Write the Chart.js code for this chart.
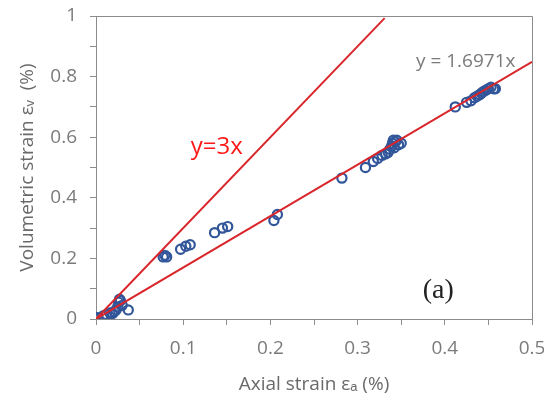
<!DOCTYPE html>
<html lang="en">
<head>
  <meta charset="UTF-8" />
  <title>Volumetric vs axial strain</title>
  <script src="https://cdn.jsdelivr.net/npm/chart.js"></script>
  <style>
    body { margin: 0; background: #fff; }
    canvas { display: block; }
  </style>
</head>
<body>
  <canvas id="strainChart" width="544" height="401"></canvas>

  <script>
    // measured points (axial %, volumetric %)
    const axialStrain = [0, 0.002, 0.008, 0.012, 0.016, 0.019, 0.021, 0.023, 0.025, 0.026, 0.027, 0.028, 0.03, 0.037,
      0.077, 0.079, 0.081, 0.097, 0.103, 0.108, 0.136, 0.145, 0.151,
      0.204, 0.208, 0.282, 0.309, 0.318, 0.323, 0.328, 0.332, 0.335, 0.337, 0.339, 0.34, 0.341, 0.342, 0.343, 0.345, 0.347, 0.35,
      0.412, 0.425, 0.43, 0.434, 0.437, 0.44, 0.442, 0.444, 0.447, 0.45, 0.453, 0.456, 0.458];
    const volStrain = [0, 0.004, 0.01, 0.015, 0.02, 0.018, 0.025, 0.03, 0.04, 0.055, 0.065, 0.06, 0.045, 0.03,
      0.205, 0.21, 0.205, 0.23, 0.24, 0.245, 0.285, 0.3, 0.305,
      0.325, 0.345, 0.465, 0.5, 0.52, 0.53, 0.54, 0.545, 0.55, 0.56, 0.57, 0.58, 0.59, 0.565, 0.585, 0.59, 0.575, 0.58,
      0.7, 0.715, 0.72, 0.73, 0.735, 0.74, 0.745, 0.75, 0.755, 0.76, 0.765, 0.76, 0.76];

    // reference lines
    const line3xX = [0, 0.331];
    const line3xY = [0, 0.993];
    const fitLineX = [0, 0.5];
    const fitLineY = [0, 0.8486];

    const xTicks = [0, 0.1, 0.2, 0.3, 0.4, 0.5];
    const yTicks = [0, 0.2, 0.4, 0.6, 0.8, 1];

    const toPts = (xs, ys) => xs.map((x, i) => ({ x: x, y: ys[i] }));
    const showLabel = (list) => (v) => {
      const r = +v.toFixed(2);
      return list.some(t => Math.abs(t - r) < 1e-6) ? String(r) : '';
    };

    const axisGray = '#8c8c8c';
    const textGray = '#7b7b7b';
    const red = '#d9262b';

    const frame = {
      id: 'frame',
      afterDraw(chart) {
        const { ctx, chartArea: a, scales } = chart;
        ctx.save();
        ctx.strokeStyle = axisGray;
        ctx.lineWidth = 1;
        ctx.beginPath();
        ctx.moveTo(a.left, a.top + 0.5);
        ctx.lineTo(a.right + 0.5, a.top + 0.5);
        ctx.lineTo(a.right + 0.5, a.bottom);
        ctx.stroke();

        const x = scales.x, y = scales.y;
        ctx.textAlign = 'center';
        ctx.textBaseline = 'middle';
        ctx.fillStyle = '#ff1a1a';
        ctx.font = '24px "Open Sans", sans-serif';
        ctx.fillText('y=3x', x.getPixelForValue(0.1385), y.getPixelForValue(0.568));

        ctx.fillStyle = '#7a7a7a';
        ctx.font = '19px "Open Sans", sans-serif';
        ctx.fillText('y = 1.6971x', x.getPixelForValue(0.424), y.getPixelForValue(0.851));

        ctx.fillStyle = '#222';
        ctx.font = '28px "Liberation Serif", serif';
        ctx.fillText('(a)', x.getPixelForValue(0.3925), y.getPixelForValue(0.095));
        ctx.restore();
      }
    };

    new Chart(document.getElementById('strainChart'), {
      type: 'scatter',
      data: {
        datasets: [
          {
            data: toPts(line3xX, line3xY), showLine: true, pointRadius: 0,
            borderColor: red, borderWidth: 2
          },
          {
            data: toPts(fitLineX, fitLineY), showLine: true, pointRadius: 0,
            borderColor: red, borderWidth: 2
          },
          {
            data: toPts(axialStrain, volStrain),
            pointRadius: 4.6, pointBorderWidth: 2.2,
            borderColor: '#32569a', backgroundColor: 'rgba(0,0,0,0)'
          }
        ]
      },
      options: {
        responsive: false,
        animation: false,
        devicePixelRatio: 1,
        layout: { padding: { top: 16, right: 12, left: 0, bottom: 0 } },
        plugins: { legend: { display: false }, tooltip: { enabled: false } },
        scales: {
          x: {
            min: 0, max: 0.5,
            ticks: { stepSize: 0.05, autoSkip: false, maxRotation: 0, padding: 12, color: textGray,
              font: { family: '"Open Sans", sans-serif', size: 19 }, callback: showLabel(xTicks) },
            grid: { drawOnChartArea: false, tickLength: 6, color: axisGray },
            border: { color: axisGray },
            title: { display: true, text: 'Axial strain \u03b5\u2090 (%)', color: '#6a6a6a',
              font: { family: '"Open Sans", sans-serif', size: 19 }, padding: { top: 0, bottom: 5 } },
            afterFit(s) { s.height = 82; s.paddingLeft = 0; s.paddingRight = 0; }
          },
          y: {
            min: 0, max: 1,
            ticks: { stepSize: 0.1, autoSkip: false, padding: 13, color: textGray,
              font: { family: '"Open Sans", sans-serif', size: 19 }, callback: showLabel(yTicks) },
            grid: { drawOnChartArea: false, tickLength: 6, color: axisGray },
            border: { color: axisGray },
            title: { display: true, text: 'Volumetric strain \u03b5\u1d65  (%)', color: '#6a6a6a',
              font: { family: '"Open Sans", sans-serif', size: 19 }, padding: { top: 16, bottom: 0 } },
            afterFit(s) { s.width = 96; s.paddingTop = 0; s.paddingBottom = 0; }
          }
        }
      },
      plugins: [frame]
    });
  </script>
</body>
</html>
